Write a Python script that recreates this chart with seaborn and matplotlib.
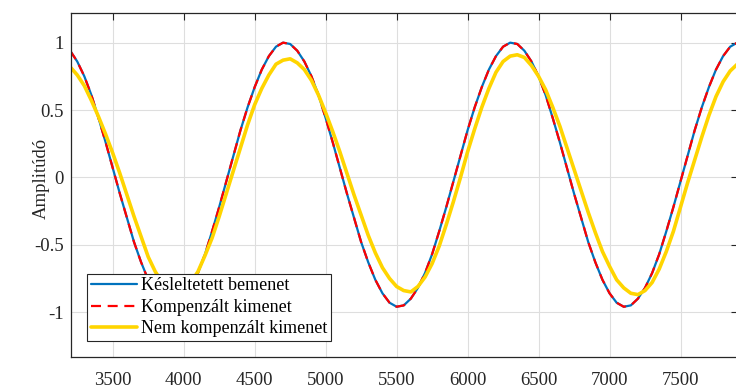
import numpy as np
import pandas as pd
import matplotlib
matplotlib.use('Agg')
import matplotlib.pyplot as plt
import seaborn as sns

# sample positions (every 50 samples)
minta = np.arange(3200, 7950, 50)

# delayed input (blue)
kesleltetett = [
    0.94, 0.86, 0.75, 0.61, 0.44, 0.26, 0.07, -0.12, -0.30, -0.48, -0.63, -0.76, -0.86, -0.93, -0.96, -0.95,
    -0.90, -0.82, -0.71, -0.57, -0.40, -0.22, -0.03, 0.16, 0.35, 0.52, 0.67, 0.80, 0.90, 0.97, 1.00, 0.99,
    0.94, 0.86, 0.75, 0.61, 0.44, 0.26, 0.07, -0.12, -0.30, -0.48, -0.63, -0.76, -0.86, -0.93, -0.96, -0.95,
    -0.90, -0.82, -0.71, -0.57, -0.40, -0.22, -0.03, 0.16, 0.35, 0.52, 0.67, 0.80, 0.90, 0.97, 1.00, 0.99,
    0.94, 0.86, 0.75, 0.61, 0.44, 0.26, 0.07, -0.12, -0.30, -0.48, -0.63, -0.76, -0.86, -0.93, -0.96, -0.95,
    -0.90, -0.82, -0.71, -0.57, -0.40, -0.22, -0.03, 0.16, 0.35, 0.52, 0.67, 0.80, 0.90, 0.97, 1.00,
]

# compensated output (red dashed) - sits on top of the blue one
kompenzalt = [
    0.94, 0.86, 0.75, 0.61, 0.44, 0.26, 0.07, -0.12, -0.30, -0.48, -0.63, -0.76, -0.86, -0.93, -0.96, -0.95,
    -0.90, -0.82, -0.71, -0.57, -0.40, -0.22, -0.03, 0.16, 0.35, 0.52, 0.67, 0.80, 0.90, 0.97, 1.00, 0.99,
    0.94, 0.86, 0.75, 0.61, 0.44, 0.26, 0.07, -0.12, -0.30, -0.48, -0.63, -0.76, -0.86, -0.93, -0.96, -0.95,
    -0.90, -0.82, -0.71, -0.57, -0.40, -0.22, -0.03, 0.16, 0.35, 0.52, 0.67, 0.80, 0.90, 0.97, 1.00, 0.99,
    0.94, 0.86, 0.75, 0.61, 0.44, 0.26, 0.07, -0.12, -0.30, -0.48, -0.63, -0.76, -0.86, -0.93, -0.96, -0.95,
    -0.90, -0.82, -0.71, -0.57, -0.40, -0.22, -0.03, 0.16, 0.35, 0.52, 0.67, 0.80, 0.90, 0.97, 1.00,
]

# uncompensated output (yellow)
nem_kompenzalt = [
    0.82, 0.76, 0.68, 0.57, 0.45, 0.32, 0.18, 0.03, -0.13, -0.29, -0.44, -0.59, -0.70, -0.78, -0.83, -0.85,
    -0.83, -0.78, -0.70, -0.58, -0.45, -0.29, -0.12, 0.05, 0.22, 0.39, 0.54, 0.66, 0.76, 0.84, 0.87, 0.88,
    0.85, 0.80, 0.72, 0.61, 0.48, 0.34, 0.19, 0.03, -0.13, -0.28, -0.43, -0.56, -0.67, -0.75, -0.81, -0.84,
    -0.85, -0.81, -0.74, -0.64, -0.51, -0.35, -0.18, 0.00, 0.19, 0.36, 0.52, 0.66, 0.78, 0.86, 0.90, 0.91,
    0.89, 0.83, 0.75, 0.65, 0.52, 0.38, 0.22, 0.06, -0.10, -0.26, -0.41, -0.55, -0.66, -0.76, -0.82, -0.86,
    -0.87, -0.84, -0.78, -0.68, -0.55, -0.40, -0.22, -0.04, 0.13, 0.30, 0.46, 0.60, 0.71, 0.79, 0.84,
]

cimkek = ['Késleltetett bemenet', 'Kompenzált kimenet', 'Nem kompenzált kimenet']
x_ticks = [3500, 4000, 4500, 5000, 5500, 6000, 6500, 7000, 7500]
y_ticks = [-1, -0.5, 0, 0.5, 1]
y_tick_labels = ['-1', '-0.5', '0', '0.5', '1']

df = pd.DataFrame({'minta': minta, 'kes': kesleltetett, 'komp': kompenzalt, 'nem': nem_kompenzalt})

# style settings (matlab-ish look)
sns.set_theme(style='whitegrid')
plt.rcParams['font.family'] = ['Liberation Serif', 'DejaVu Serif']
plt.rcParams['axes.unicode_minus'] = False
dark = '#262626'
fs = 13.5

fig = plt.figure(figsize=(7.36, 3.87), dpi=100)
ax = fig.add_axes([71 / 736, 30 / 387, 667 / 736, 344 / 387])
ax.set_facecolor('white')

sns.lineplot(data=df, x='minta', y='kes', ax=ax, color='#0072BD', linewidth=1.6, label=cimkek[0])
sns.lineplot(data=df, x='minta', y='komp', ax=ax, color='#FF0000', linewidth=1.6, label=cimkek[1])
ax.lines[-1].set_dashes((4.5, 3))
sns.lineplot(data=df, x='minta', y='nem', ax=ax, color='#FFD500', linewidth=2.6, label=cimkek[2])

ax.set_xlim(3206, 7905)
ax.set_ylim(-1.333, 1.22)
ax.set_xticks(x_ticks)
ax.set_xticklabels([str(t) for t in x_ticks])
ax.set_yticks(y_ticks)
ax.set_yticklabels(y_tick_labels)

ax.grid(True, color='#DEDEDE', linewidth=0.8)
for s in ax.spines.values():
    s.set_visible(True)
    s.set_color(dark)
    s.set_linewidth(0.9)

ax.tick_params(axis='both', direction='in', length=5, width=0.8, colors=dark,
               top=True, right=True, labelsize=fs, labelcolor=dark)
ax.tick_params(axis='x', pad=11)
ax.tick_params(axis='y', pad=5)

ax.set_xlabel('')
ax.set_ylabel('Amplitúdó', fontsize=fs, color=dark)
ax.yaxis.set_label_coords(-0.032, 0.52)

leg = ax.legend(loc='lower left', bbox_to_anchor=(0.0244, 0.0465), borderaxespad=0,
                fancybox=False, framealpha=1, edgecolor=dark, fontsize=13,
                handlelength=2.55, handletextpad=0.25, borderpad=0.2, labelspacing=0.25)
leg.get_frame().set_linewidth(0.8)
for t in leg.get_texts():
    t.set_color('black')

fig.savefig('out.png', dpi=100)
